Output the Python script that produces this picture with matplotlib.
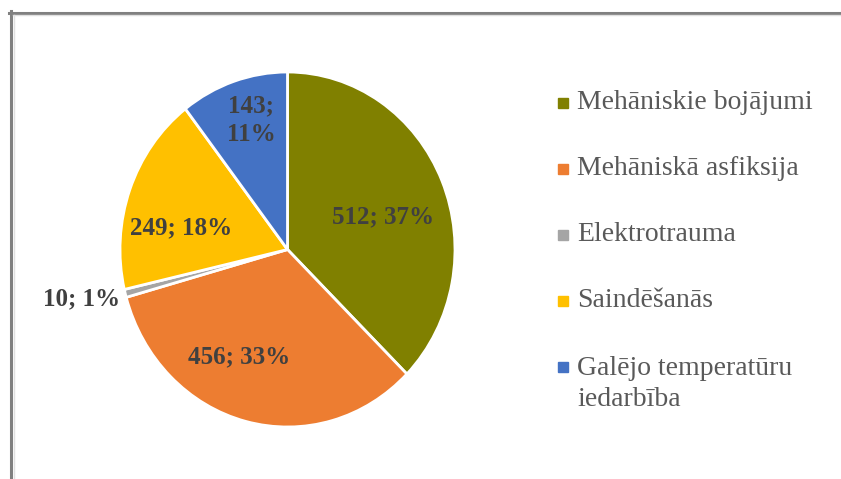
import numpy as np
import matplotlib
matplotlib.use("Agg")
import matplotlib.pyplot as plt
from matplotlib.lines import Line2D
from matplotlib.patches import Rectangle

categories = ["Mehāniskie bojājumi", "Mehāniskā asfiksija", "Elektrotrauma",
              "Saindēšanās", "Galējo temperatūru\niedarbība"]
values = [512, 456, 10, 249, 143]
percent_labels = [37, 33, 1, 18, 11]
colors = ["#808000", "#ED7D31", "#A5A5A5", "#FFC000", "#4472C4"]

# label placement (radius as fraction of pie radius, angle nudge in degrees)
label_r = [0.60, 0.67, 1.26, 0.646, 0.76]
label_nudge = [-4.7, -10.9, -1.7, 8.9, -2.2]

W, H = 841, 479
fig = plt.figure(figsize=(W / 100, H / 100), dpi=100)

# pie (slightly taller than wide, as in the reference)
ax = fig.add_axes([120 / W, 1 - 427 / H, 335 / W, 355 / H])
wedges, _ = ax.pie(values, colors=colors, startangle=90, counterclock=False,
                   wedgeprops=dict(edgecolor="white", linewidth=2))
ax.set_aspect("auto")
ax.set_xlim(-1, 1)
ax.set_ylim(-1, 1)

for i, w in enumerate(wedges):
    ang = np.deg2rad((w.theta1 + w.theta2) / 2 + label_nudge[i])
    txt = f"{values[i]}; {percent_labels[i]}%"
    if i == 4:
        txt = f"{values[i]};\n{percent_labels[i]}%"
    ax.text(label_r[i] * np.cos(ang), label_r[i] * np.sin(ang), txt,
            ha="center", va="center", fontsize=18, fontweight="bold",
            family="Liberation Serif", color="#404040", linespacing=1.35)

# legend drawn by hand so the two-line entry keeps its marker on line one
line_gap = 33
for i, name in enumerate(categories):
    base = 109 + i * 66
    fig.patches.append(Rectangle((558 / W, 1 - (base - 1) / H), 10 / W, 10 / H,
                                 transform=fig.transFigure, color=colors[i]))
    # multi-line text is anchored on its last baseline
    last_base = base + line_gap * name.count("\n")
    fig.text(577 / W, 1 - last_base / H, name, ha="left", va="baseline",
             fontsize=20, family="Liberation Serif", color="#595959",
             linespacing=1.3)

# chart frame (left and top edges visible)
fig.add_artist(Line2D([10.5 / W, 10.5 / W], [0, 1 - 11 / H], transform=fig.transFigure,
                      color="#808080", lw=2.2))
fig.add_artist(Line2D([9 / W, 1], [1 - 12.5 / H, 1 - 12.5 / H], transform=fig.transFigure,
                      color="#808080", lw=2.2))
fig.add_artist(Line2D([13.5 / W, 13.5 / W], [0, 1 - 14.5 / H], transform=fig.transFigure,
                      color="#E0E0E0", lw=1))
fig.add_artist(Line2D([13 / W, 1], [1 - 15 / H, 1 - 15 / H], transform=fig.transFigure,
                      color="#E0E0E0", lw=1))

fig.savefig("out.png", dpi=100)
